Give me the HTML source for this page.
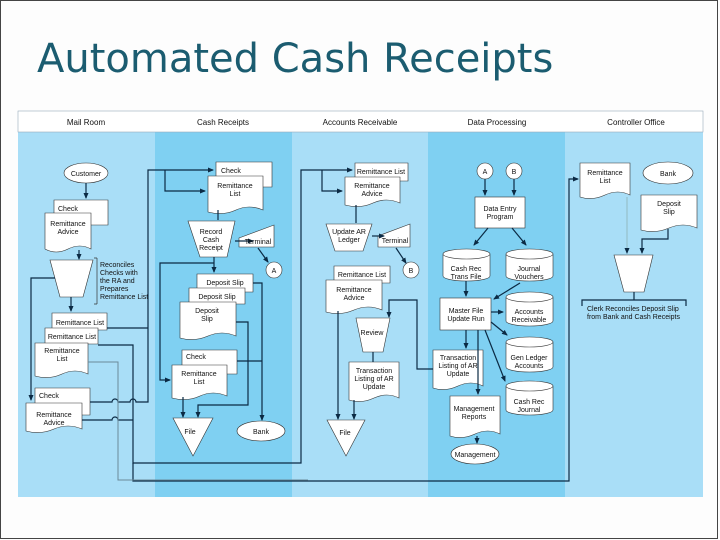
<!DOCTYPE html>
<html><head><meta charset="utf-8"><style>
html,body{margin:0;padding:0;background:#fff;}
.s{position:relative;width:720px;height:540px;overflow:hidden;background:#fdfdfd;}
svg text{font-family:"Liberation Sans",sans-serif;font-size:7px;fill:#111;}
</style></head><body><div class="s">
<svg width="720" height="540" viewBox="0 0 720 540" xmlns="http://www.w3.org/2000/svg">
<defs><marker id="a" markerWidth="6" markerHeight="6" refX="5" refY="3" orient="auto" markerUnits="userSpaceOnUse"><path d="M0,0.5 L6,3 L0,5.5z" fill="#0b2a44"/></marker></defs>
<rect x="0.5" y="0.5" width="717" height="538" fill="none" stroke="#444" stroke-width="1"/>
<text x="37" y="72" style="font-size:40px;fill:#1b5c70;font-family:'DejaVu Sans','Liberation Sans',sans-serif">Automated Cash Receipts</text>
<!-- lanes -->
<rect x="18" y="111" width="685" height="386" fill="#a9def7"/>
<rect x="155" y="132" width="137" height="365" fill="#7fd0f2"/>
<rect x="428" y="132" width="137" height="365" fill="#7fd0f2"/>
<rect x="18" y="111" width="685" height="21" fill="#fff" stroke="#9ab" stroke-width="0.6"/>
<g style="font-size:8px" text-anchor="middle">
<text x="86" y="125" style="font-size:8px">Mail Room</text><text x="223" y="125" style="font-size:8px">Cash Receipts</text><text x="360" y="125" style="font-size:8px">Accounts Receivable</text><text x="497" y="125" style="font-size:8px">Data Processing</text><text x="636" y="125" style="font-size:8px">Controller Office</text></g>

<g fill="#fff" stroke="#333" stroke-width="0.6">
<ellipse cx="86" cy="173" rx="22" ry="10"/>
<path d="M54,200h54v25h-54z"/>
<path d="M45,213h46v36q-11,-6 -23,0t-23,0z"/>
<path d="M50,260h43l-10,37h-23z"/>
<path d="M52,313h55v17h-55z"/>
<path d="M45,328h53v16h-53z"/>
<path d="M35,343h53v31q-13,-6 -26,0t-27,2z"/>
<path d="M35,388h55v27h-55z"/>
<path d="M26,403h56v26q-14,-6 -28,0t-28,2z"/>
<path d="M216,162h56v25h-56z"/>
<path d="M208,176h55v34q-14,-6 -27,0t-28,2z"/>
<path d="M188,221h47l-8,36h-27z"/>
<path d="M239,238l35,-13v22h-35z"/>
<circle cx="274" cy="270" r="8"/>
<path d="M197,274h56v18h-56z"/>
<path d="M189,288h56v16h-56z"/>
<path d="M180,302h56v34q-14,-6 -28,0t-28,2z"/>
<path d="M182,350h55v24h-55z"/>
<path d="M172,365h55v31q-14,-6 -27,0t-28,2z"/>
<path d="M173,418h40l-20,38z"/>
<ellipse cx="261" cy="431" rx="24" ry="10"/>
<path d="M355,163h53v18h-53z"/>
<path d="M345,177h55v26q-14,-6 -27,0t-28,2z"/>
<path d="M326,224h46l-9,27h-28z"/>
<path d="M378,236l32,-12v23h-32z"/>
<circle cx="411" cy="270" r="8"/>
<path d="M334,266h56v17h-56z"/>
<path d="M326,280h56v30q-14,-6 -28,0t-28,2z"/>
<path d="M356,318h34l-7,34h-20z"/>
<path d="M349,362h50v36q-12,-6 -25,0t-25,2z"/>
<path d="M327,420h38l-19,36z"/>
<circle cx="485" cy="171" r="8"/><circle cx="514" cy="171" r="8"/>
<rect x="475" y="197" width="50" height="31"/>
<path d="M443,254v22a23.5,5 0 0 0 47,0v-22a23.5,5 0 0 0 -47,0a23.5,5 0 0 0 47,0"/>
<path d="M506,254v22a23.5,5 0 0 0 47,0v-22a23.5,5 0 0 0 -47,0a23.5,5 0 0 0 47,0"/>
<rect x="440" y="298" width="51" height="32"/>
<path d="M506,297v24a23.5,5 0 0 0 47,0v-24a23.5,5 0 0 0 -47,0a23.5,5 0 0 0 47,0"/>
<path d="M506,342v25a23.5,5 0 0 0 47,0v-25a23.5,5 0 0 0 -47,0a23.5,5 0 0 0 47,0"/>
<path d="M506,386v24a23.5,5 0 0 0 47,0v-24a23.5,5 0 0 0 -47,0a23.5,5 0 0 0 47,0"/>
<path d="M433,350h50v36q-12,-6 -25,0t-25,2z"/>
<path d="M450,396h50v38q-12,-6 -25,0t-25,2z"/>
<ellipse cx="475" cy="454" rx="24" ry="10"/>
<path d="M580,163h50v32q-12,-6 -25,0t-25,2z"/>
<ellipse cx="668" cy="173" rx="25" ry="11"/>
<path d="M641,195h56v33q-14,-6 -28,0t-28,2z"/>
<path d="M614,255h39l-9,37h-20z"/>
</g>

<g fill="none" stroke="#0b2a44" stroke-width="1.2">
<path d="M86,183v15" marker-end="url(#a)"/>
<path d="M79,250v9" marker-end="url(#a)"/>
<path d="M71,297v14" marker-end="url(#a)"/>
<path d="M55,278h-24v122" marker-end="url(#a)"/>
<path d="M107,328h41"/>
<path d="M90,402h22a3,3 0 0 1 6,0h12a3,3 0 0 1 6,0h12v-232h65" marker-end="url(#a)"/>
<path d="M165,170v21h40" marker-end="url(#a)"/>
<path d="M98,345h35v118h168v-293h51" marker-end="url(#a)"/>
<path d="M322,170v21h20" marker-end="url(#a)"/>
<path d="M82,420h30a3,3 0 0 1 6,0h15"/>
<path d="M218,210v10"/>
<path d="M235,241h18" marker-end="url(#a)"/>
<path d="M258,248l10,14" marker-end="url(#a)"/>
<path d="M214,257v15" marker-end="url(#a)"/>
<path d="M214,263h-54v117h10" marker-end="url(#a)"/>
<path d="M183,397v20" marker-end="url(#a)"/>
<path d="M236,322h12v83h-50v12" marker-end="url(#a)"/>
<path d="M253,283h9v137" marker-end="url(#a)"/>
<path d="M237,361h25"/>
<path d="M356,205v18"/>
<path d="M372,236h12" marker-end="url(#a)"/>
<path d="M396,248l10,15" marker-end="url(#a)"/>
<path d="M338,311v108" marker-end="url(#a)"/>
<path d="M354,400v19" marker-end="url(#a)"/>
<path d="M373,352v10"/>
<path d="M433,369h-16v-69h-28v17" marker-end="url(#a)"/>
<path d="M485,179v16" marker-end="url(#a)"/>
<path d="M514,179v16" marker-end="url(#a)"/>
<path d="M488,228l-14,17" marker-end="url(#a)"/>
<path d="M512,228l14,17" marker-end="url(#a)"/>
<path d="M466,281v15" marker-end="url(#a)"/>
<path d="M520,283l-26,16" marker-end="url(#a)"/>
<path d="M491,312h12" marker-end="url(#a)"/>
<path d="M491,322l16,13" marker-end="url(#a)"/>
<path d="M485,330l20,51" marker-end="url(#a)"/>
<path d="M466,330v18" marker-end="url(#a)"/>
<path d="M478,330v64" marker-end="url(#a)"/>
<path d="M477,436v7" marker-end="url(#a)"/>
<path d="M133,463v18h436v-302h9" marker-end="url(#a)"/>
<path d="M668,229v10h-26v14" marker-end="url(#a)"/>
<path d="M634,292v8M582,306v-6h104v6"/>
</g>
<path d="M88,362h30v118h190" fill="none" stroke="#6a8a9a" stroke-width="1"/>
<path d="M627,197v56" fill="none" stroke="#8aa" stroke-width="0.7" marker-end="url(#a)"/>
<path d="M97,258v46M94,258h3M94,304h3" fill="none" stroke="#333" stroke-width="0.7"/>

<g text-anchor="middle">
<text x="86" y="176">Customer</text>
<text x="68" y="226">Remittance</text><text x="68" y="234">Advice</text>
<text x="80" y="325">Remittance List</text>
<text x="72" y="339">Remittance List</text>
<text x="62" y="353">Remittance</text><text x="62" y="361">List</text>
<text x="54" y="417">Remittance</text><text x="54" y="425">Advice</text>
<text x="235" y="188">Remittance</text><text x="235" y="196">List</text>
<text x="211" y="234">Record</text><text x="211" y="242">Cash</text><text x="211" y="250">Receipt</text>
<text x="258" y="244">Terminal</text>
<text x="274" y="273">A</text>
<text x="225" y="285">Deposit Slip</text>
<text x="217" y="299">Deposit Slip</text>
<text x="207" y="313">Deposit</text><text x="207" y="321">Slip</text>
<text x="199" y="376">Remittance</text><text x="199" y="384">List</text>
<text x="190" y="434">File</text>
<text x="261" y="434">Bank</text>
<text x="381" y="174">Remittance List</text>
<text x="372" y="188">Remittance</text><text x="372" y="196">Advice</text>
<text x="349" y="234">Update AR</text><text x="349" y="242">Ledger</text>
<text x="395" y="243">Terminal</text>
<text x="411" y="273">B</text>
<text x="362" y="277">Remittance List</text>
<text x="354" y="292">Remittance</text><text x="354" y="300">Advice</text>
<text x="372" y="335">Review</text>
<text x="374" y="373">Transaction</text><text x="374" y="381">Listing of AR</text><text x="374" y="389">Update</text>
<text x="345" y="435">File</text>
<text x="485" y="174">A</text><text x="514" y="174">B</text>
<text x="500" y="211">Data Entry</text><text x="500" y="219">Program</text>
<text x="466" y="271">Cash Rec</text><text x="466" y="279">Trans File</text>
<text x="529" y="271">Journal</text><text x="529" y="279">Vouchers</text>
<text x="466" y="313">Master File</text><text x="466" y="321">Update Run</text>
<text x="529" y="314">Accounts</text><text x="529" y="322">Receivable</text>
<text x="529" y="360">Gen Ledger</text><text x="529" y="368">Accounts</text>
<text x="529" y="404">Cash Rec</text><text x="529" y="412">Journal</text>
<text x="458" y="360">Transaction</text><text x="458" y="368">Listing of AR</text><text x="458" y="376">Update</text>
<text x="474" y="411">Management</text><text x="474" y="419">Reports</text>
<text x="475" y="457">Management</text>
<text x="605" y="175">Remittance</text><text x="605" y="183">List</text>
<text x="668" y="176">Bank</text>
<text x="669" y="206">Deposit</text><text x="669" y="214">Slip</text>
</g>
<g>
<text x="58" y="211">Check</text>
<text x="100" y="267">Reconciles</text><text x="100" y="275">Checks with</text><text x="100" y="283">the RA and</text><text x="100" y="291">Prepares</text><text x="100" y="299">Remittance List</text>
<text x="39" y="398">Check</text>
<text x="221" y="173">Check</text>
<text x="186" y="359">Check</text>
<text x="587" y="311">Clerk Reconciles Deposit Slip</text><text x="587" y="319">from Bank and Cash Receipts</text>
</g>
</svg>
</div></body></html>
